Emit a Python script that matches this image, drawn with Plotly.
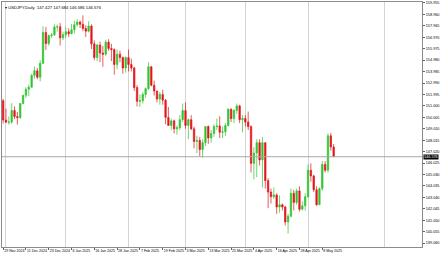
import pandas as pd
import plotly.graph_objects as go

SYMBOL = "USDJPY,Daily"
DATES = [d for d in pd.bdate_range("2024-11-29", "2025-05-14")
         if d.strftime("%m-%d") not in ("12-25", "01-01")]

OPEN = [151.45, 149.77, 149.58, 149.60, 150.60, 150.08, 149.98, 151.21, 151.92, 152.45,
        152.63, 153.65, 154.06, 153.49, 154.70, 157.39, 156.43, 157.12, 157.18, 157.86,
        157.88, 156.92, 157.20, 157.45, 157.28, 157.62, 158.07, 158.30, 158.10, 157.74,
        157.50, 157.95, 156.40, 155.20, 156.30, 155.60, 155.50, 156.55, 156.00, 155.90,
        154.60, 155.50, 155.20, 154.30, 155.20, 154.60, 154.30, 152.60, 151.40, 151.45,
        152.00, 152.50, 154.40, 152.80, 152.30, 151.60, 152.00, 151.50, 150.00, 149.30,
        149.70, 149.00, 149.10, 149.80, 150.60, 149.30, 149.80, 149.00, 147.90, 148.00,
        147.20, 147.80, 149.20, 148.20, 148.60, 149.20, 149.25, 148.70, 148.75, 149.30,
        150.70, 149.90, 150.60, 151.00, 149.80, 149.90, 149.60, 149.20, 146.00, 146.90,
        147.80, 146.30, 147.80, 144.50, 143.50, 143.10, 143.25, 142.20, 142.40, 142.20,
        140.90, 141.40, 143.40, 142.60, 143.60, 142.00, 142.30, 143.10, 145.40, 144.90,
        143.70, 142.40, 143.80, 145.90, 145.40, 148.40, 147.427]
HIGH = [151.60, 150.76, 150.08, 151.23, 150.95, 150.48, 151.24, 151.96, 152.62, 152.84,
        153.79, 154.42, 154.30, 154.97, 157.93, 157.87, 157.20, 157.33, 158.09, 158.08,
        158.22, 157.46, 157.83, 157.75, 158.12, 158.42, 158.55, 158.42, 158.87, 158.00,
        158.36, 158.10, 156.70, 156.40, 156.60, 156.20, 156.75, 156.80, 156.40, 156.00,
        155.90, 155.80, 155.30, 155.30, 155.90, 155.10, 154.40, 152.80, 152.00, 152.20,
        152.60, 154.80, 154.45, 153.20, 152.30, 152.20, 152.40, 151.60, 150.90, 149.90,
        149.80, 149.30, 150.20, 151.20, 151.30, 149.90, 150.20, 149.20, 148.40, 148.30,
        148.10, 149.20, 149.30, 148.90, 149.40, 149.90, 150.10, 149.20, 149.50, 150.80,
        150.80, 150.70, 151.20, 151.10, 150.20, 150.20, 150.50, 149.30, 147.40, 148.10,
        148.10, 148.30, 147.80, 144.70, 143.80, 143.90, 143.40, 143.20, 142.50, 142.30,
        141.60, 143.80, 143.70, 143.80, 144.00, 142.70, 143.40, 145.90, 146.00, 145.00,
        144.00, 143.90, 146.20, 146.20, 148.60, 148.65, 147.684]
LOW = [149.47, 149.54, 149.37, 149.44, 149.85, 149.37, 149.86, 151.13, 151.70, 151.85,
       152.60, 153.37, 153.33, 153.13, 154.67, 155.87, 156.22, 156.90, 157.09, 157.46,
       156.25, 156.73, 156.92, 157.00, 157.24, 157.30, 157.90, 157.78, 157.50, 157.00,
       157.39, 155.95, 154.97, 154.90, 154.80, 154.40, 155.35, 155.80, 154.90, 153.72,
       154.20, 154.80, 153.80, 153.90, 154.00, 154.00, 152.30, 150.95, 150.90, 151.20,
       151.70, 152.40, 152.70, 151.90, 151.30, 151.10, 151.10, 149.40, 149.30, 148.90,
       148.60, 148.50, 148.90, 149.60, 149.00, 148.10, 148.90, 147.30, 146.90, 146.60,
       146.50, 147.50, 147.70, 147.80, 148.30, 148.90, 148.20, 148.20, 148.40, 149.20,
       149.60, 149.50, 150.30, 149.50, 148.70, 149.20, 148.90, 145.20, 144.60, 144.80,
       145.80, 143.90, 143.80, 142.10, 142.50, 142.90, 141.60, 141.70, 141.90, 140.60,
       139.89, 141.30, 141.90, 142.40, 141.80, 141.90, 141.90, 143.00, 144.40, 143.50,
       142.30, 142.40, 143.60, 145.20, 145.20, 147.10, 146.586]
CLOSE = [149.77, 149.58, 149.60, 150.60, 150.08, 149.98, 151.21, 151.92, 152.45, 152.63,
         153.65, 154.06, 153.49, 154.70, 157.39, 156.43, 157.12, 157.18, 157.86, 157.88,
         156.92, 157.20, 157.45, 157.28, 157.62, 158.07, 158.30, 158.10, 157.74, 157.50,
         157.95, 156.40, 155.20, 156.30, 155.60, 155.50, 156.55, 156.00, 155.90, 154.60,
         155.50, 155.20, 154.30, 155.20, 154.60, 154.30, 152.60, 151.40, 151.45, 152.00,
         152.50, 154.40, 152.80, 152.30, 151.60, 152.00, 151.50, 150.00, 149.30, 149.70,
         149.00, 149.10, 149.80, 150.60, 149.30, 149.80, 149.00, 147.90, 148.00, 147.20,
         147.80, 149.20, 148.20, 148.60, 149.20, 149.25, 148.70, 148.75, 149.30, 150.70,
         149.90, 150.60, 151.00, 149.80, 149.90, 149.60, 149.20, 146.00, 146.90, 147.80,
         146.30, 147.80, 144.50, 143.50, 143.10, 143.25, 142.20, 142.40, 142.20, 140.90,
         141.40, 143.40, 142.60, 143.60, 142.00, 142.30, 143.10, 145.40, 144.90, 143.70,
         142.40, 143.80, 145.90, 145.40, 148.40, 147.43, 146.576]

X_TICK_LABELS = ["29 Nov 2024", "11 Dec 2024", "23 Dec 2024", "6 Jan 2025", "16 Jan 2025",
                 "28 Jan 2025", "7 Feb 2025", "19 Feb 2025", "3 Mar 2025", "13 Mar 2025",
                 "25 Mar 2025", "4 Apr 2025", "16 Apr 2025", "28 Apr 2025", "8 May 2025"]
Y_TICK_LABELS = ["159.955", "158.960", "157.965", "156.970", "155.975", "154.980", "153.985",
                 "152.990", "151.995", "151.000", "150.005", "149.010", "148.015", "147.020",
                 "146.025", "145.030", "144.035", "143.040", "142.045", "141.050", "140.055",
                 "139.060"]
EXTRA_GRID_BARS = [134]

GREEN = "#2fc42f"
RED = "#e3141b"

idx = list(range(len(DATES)))
labels_of = [f"{d.day} {d.strftime('%b %Y')}" for d in DATES]
xtickvals = [labels_of.index(t) for t in X_TICK_LABELS]
month_starts = [i for i in range(1, len(DATES)) if DATES[i].month != DATES[i - 1].month]
grid_vals = month_starts + EXTRA_GRID_BARS
last_close = CLOSE[-1]

fig = go.Figure(go.Candlestick(
    x=idx, open=OPEN, high=HIGH, low=LOW, close=CLOSE,
    increasing=dict(line=dict(color=GREEN, width=0.7), fillcolor=GREEN),
    decreasing=dict(line=dict(color=RED, width=0.7), fillcolor=RED),
    whiskerwidth=0, hoverinfo="skip",
))

fig.add_shape(type="line", xref="paper", x0=0, x1=1, y0=last_close, y1=last_close,
              line=dict(color="#a8a8a8", width=1))
fig.add_annotation(xref="paper", x=1, y=last_close, text=f"{last_close:.3f}",
                   showarrow=False, xanchor="left", yanchor="middle", xshift=1,
                   bgcolor="#000000", font=dict(color="white", size=3.8), borderpad=0)
fig.add_annotation(xref="paper", yref="paper", x=0, y=1, xanchor="left", yanchor="top",
                   text=f"▾ {SYMBOL}  {OPEN[-1]:.3f} {HIGH[-1]:.3f} {LOW[-1]:.3f} {CLOSE[-1]:.3f}",
                   showarrow=False, font=dict(size=4.2, color="#000000"), xshift=1, yshift=-1)

fig.update_layout(
    width=440, height=254,
    margin=dict(l=1, r=17, t=1, b=7),
    paper_bgcolor="white", plot_bgcolor="white",
    showlegend=False, boxgap=0.3,
    font=dict(family="Liberation Sans, Arial", size=3.8, color="#000000"),
    xaxis=dict(
        range=[-0.4, 147.0], rangeslider=dict(visible=False),
        tickmode="array", tickvals=xtickvals, ticktext=X_TICK_LABELS, tickangle=0,
        ticklabelposition="outside right", ticks="outside", ticklen=2,
        tickcolor="#606060", tickfont=dict(size=3.6),
        showgrid=False, zeroline=False,
        showline=True, mirror=True, linecolor="#8c8c8c", linewidth=1,
        minor=dict(tickmode="array", tickvals=grid_vals, showgrid=True,
                   gridcolor="#d4d4d4", gridwidth=1, ticks=""),
    ),
    yaxis=dict(
        side="right", range=[138.72, 160.04],
        tickmode="array", tickvals=[float(v) for v in Y_TICK_LABELS], ticktext=Y_TICK_LABELS,
        ticks="outside", ticklen=2, tickcolor="#606060", tickfont=dict(size=3.8),
        showgrid=False, zeroline=False,
        showline=True, mirror=True, linecolor="#8c8c8c", linewidth=1,
    ),
)

fig.write_html("out.html", config={"displayModeBar": False})
